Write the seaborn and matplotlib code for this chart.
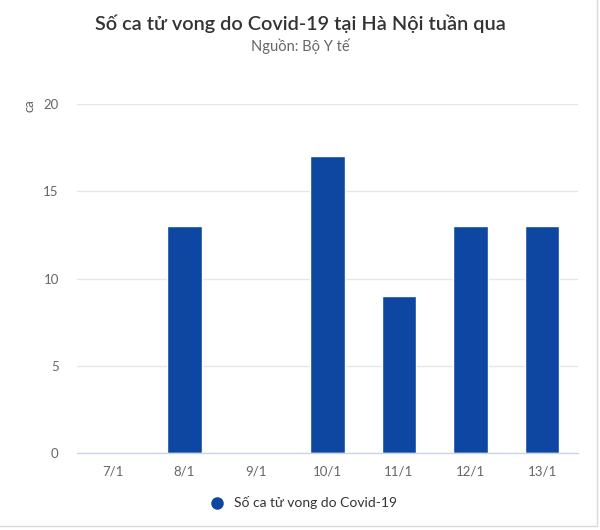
import matplotlib
matplotlib.use("Agg")
import matplotlib.pyplot as plt
from matplotlib.lines import Line2D
import pandas as pd
import seaborn as sns

# ── DATA ──────────────────────────────────────────────────────────────────────
days   = ["7/1", "8/1", "9/1", "10/1", "11/1", "12/1", "13/1"]
deaths = [0, 13, 0, 17, 9, 13, 13]
yticks = [0, 5, 10, 15, 20]

TITLE    = "Số ca tử vong do Covid-19 tại Hà Nội tuần qua"
SUBTITLE = "Nguồn: Bộ Y tế"
SERIES   = "Số ca tử vong do Covid-19"
BLUE     = "#0d47a1"

df = pd.DataFrame({"day": days, "deaths": deaths})

# ── STYLE ─────────────────────────────────────────────────────────────────────
sns.set_style("white")
plt.rcParams["font.family"] = ["Lato", "DejaVu Sans"]

fig = plt.figure(figsize=(6.0, 5.3), dpi=100)
ax = fig.add_axes([0.128, 0.145, 0.835, 0.659])

sns.barplot(data=df, x="day", y="deaths", color=BLUE, saturation=1,
            width=0.485, ax=ax)

ax.set_ylim(0, 20)
ax.set_xlim(-0.5, len(days) - 0.5)
ax.set_yticks(yticks)
ax.grid(axis="y", color="#e6e6e6", linewidth=1)
ax.set_axisbelow(True)
for s in ["top", "right", "left"]:
    ax.spines[s].set_visible(False)
ax.spines["bottom"].set_color("#ccd6eb")
ax.spines["bottom"].set_linewidth(1)
ax.tick_params(axis="both", length=0, colors="#666666", labelsize=9.5)
ax.tick_params(axis="x", pad=9)
ax.tick_params(axis="y", pad=13)
ax.set_xlabel("")
ax.set_ylabel("")

fig.text(0.05, 0.80, "ca", rotation=90, ha="center", va="center",
         color="#666666", fontsize=9.5)

fig.text(0.5, 0.956, TITLE, ha="center", va="center", fontsize=14.3,
         fontweight="semibold", color="#333333")
fig.text(0.5, 0.912, SUBTITLE, ha="center", va="center", fontsize=10.5,
         color="#666666")

handle = Line2D([], [], marker="o", linestyle="none", markersize=8,
                markerfacecolor=BLUE, markeredgecolor=BLUE)
fig.legend([handle], [SERIES], loc="center", bbox_to_anchor=(0.5, 0.051),
           frameon=False, fontsize=10, handletextpad=0.2,
           labelcolor="#333333")

# thin frame at right and bottom edges
fig.add_artist(Line2D([0.995, 0.995], [0.008, 1.0], color="#d9d9d9",
                      linewidth=1, transform=fig.transFigure))
fig.add_artist(Line2D([0.0, 0.995], [0.008, 0.008], color="#d9d9d9",
                      linewidth=1, transform=fig.transFigure))

fig.savefig("out.png", dpi=100)
